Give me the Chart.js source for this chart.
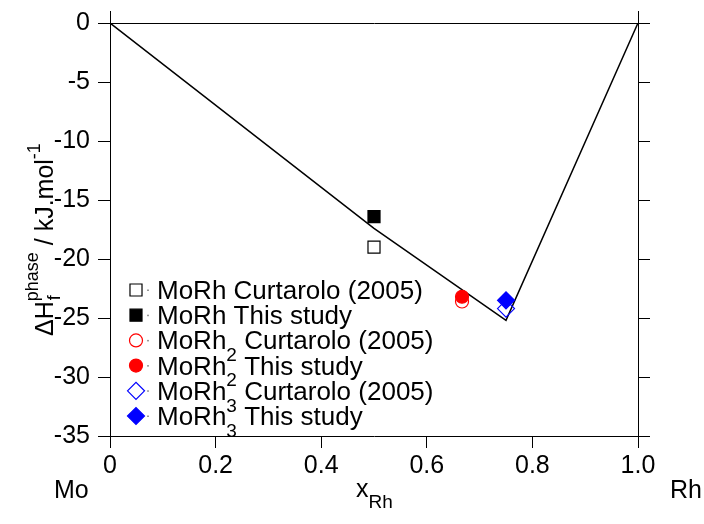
<!DOCTYPE html>
<html>
<head>
<meta charset="utf-8">
<script src="https://cdn.jsdelivr.net/npm/chart.js@4.4.1/dist/chart.umd.min.js"></script>
<style>
body{margin:0;background:#fff}
#grafica{display:block}
</style>
</head>
<body>
<canvas id="grafica" width="704" height="524"></canvas>
<script>
// composicion x(Rh) de cada fase
let fases = ['MoRh', 'MoRh', 'MoRh'];
let subindices = ['', '2', '3'];
let xFases = [0.5, 0.6667, 0.75];
// entalpias de formacion (kJ/mol)
let curtarolo = [-19.0, -23.6, -24.2];
let esteEstudio = [-16.4, -23.2, -23.5];
let fuentes = ['Curtarolo (2005)', 'This study'];
// envolvente convexa
let xEnvolvente = [0, 0.5, 0.75, 1];
let yEnvolvente = [0, -17.4, -25.2, 0];
let etiquetasX = ['0', '0.2', '0.4', '0.6', '0.8', '1.0'];

let colores = ['#000000', '#ff0000', '#0000ff'];
let estilos = ['rect', 'circle', 'rectRot'];
let radios = [8.5, 6.5, 8.5];
const fuente = '"Liberation Sans", Arial, sans-serif';
Chart.defaults.font.family = fuente;

let datasets = [];
for (let i = 0; i < fases.length; i++) {
    [curtarolo, esteEstudio].forEach((serie, j) => {
        datasets.push({
            label: fases[i] + subindices[i] + ' ' + fuentes[j],
            fase: fases[i], sub: subindices[i], texto: ' ' + fuentes[j],
            data: [{x: xFases[i], y: serie[i]}],
            pointStyle: estilos[i],
            pointRadius: radios[i],
            pointBorderWidth: 1.2,
            borderColor: colores[i],
            backgroundColor: j == 0 ? 'rgba(255,255,255,0)' : colores[i],
            order: j == 0 ? 2 : 1
        });
    });
}
datasets.push({
    label: 'hull',
    data: xEnvolvente.map((x, k) => ({x: x, y: yEnvolvente[k]})),
    showLine: true,
    pointRadius: 0,
    borderColor: '#000',
    borderWidth: 1.5,
    order: 3
});

function escribir(ctx, partes, x, y, tam) {
    let px = x;
    partes.forEach(p => {
        let t = p[0], tipo = p[1];
        let f = tipo == 'n' ? tam : Math.round(tam * 0.74);
        let dy = tipo == 'sub' ? tam * 0.45 : (tipo == 'sup' ? -tam * 0.5 : 0);
        ctx.font = f + 'px ' + fuente;
        ctx.fillText(t, px, y + dy);
        px += ctx.measureText(t).width;
    });
    return px;
}

const textos = {
    id: 'textos',
    afterDraw(chart) {
        const ctx = chart.ctx;
        ctx.save();
        ctx.fillStyle = '#000';
        ctx.textBaseline = 'alphabetic';
        ctx.textAlign = 'left';
        // leyenda
        let lx = 136, ly = 290, paso = 25.2;
        chart.data.datasets.forEach((ds, i) => {
            if (!ds.fase) return;
            let y = ly + i * paso;
            ctx.lineWidth = ds.pointBorderWidth;
            ctx.strokeStyle = ds.borderColor;
            ctx.fillStyle = ds.backgroundColor;
            Chart.helpers.drawPoint(ctx, {pointStyle: ds.pointStyle, radius: ds.pointRadius, rotation: 0, borderWidth: ds.pointBorderWidth}, lx, y);
            ctx.fillStyle = '#999';
            ctx.fillRect(147, y - 0.5, 2, 1.5);
            ctx.fillStyle = '#000';
            escribir(ctx, [[ds.fase, 'n'], [ds.sub, 'sub'], [ds.texto, 'n']], 157, y + 9, 26);
        });
        // titulo eje x
        escribir(ctx, [['x', 'n'], ['Rh', 'sub']], 356, 497, 25);
        ctx.font = '25px ' + fuente;
        ctx.fillText('Mo', 54, 498);
        ctx.fillText('Rh', 670, 498);
        // titulo eje y
        ctx.translate(53, 336);
        ctx.rotate(-Math.PI / 2);
        ctx.font = '25px ' + fuente;
        ctx.fillText('\u0394H', 0, 0);
        let w = ctx.measureText('\u0394H').width;
        ctx.font = '18px ' + fuente;
        ctx.fillText('f', w + 1, 7);
        ctx.fillText('phase', w, -15);
        w += ctx.measureText('phase').width;
        ctx.font = '25px ' + fuente;
        ctx.fillText(' / kJ.mol', w, 0);
        w += ctx.measureText(' / kJ.mol').width;
        ctx.font = '18px ' + fuente;
        ctx.fillText('-1', w, -13);
        ctx.restore();
    }
};

const ejeBase = {
    grid: {drawOnChartArea: false, tickLength: 12, color: '#000'},
    border: {color: '#000', width: 1}
};

let grafica = document.getElementById('grafica').getContext('2d');
let chart = new Chart(grafica, {
    type: 'scatter',
    data: {datasets: datasets},
    options: {
        responsive: false,
        animation: false,
        devicePixelRatio: 1,
        layout: {padding: 0},
        plugins: {legend: {display: false}, tooltip: {enabled: false}, title: {display: false}},
        scales: {
            x: {
                type: 'linear', position: 'bottom', min: 0, max: 1,
                ticks: {stepSize: 0.2, color: '#000', font: {size: 25}, padding: 3, maxRotation: 0, autoSkip: false,
                    callback: (v, i) => etiquetasX[i]},
                grid: ejeBase.grid, border: ejeBase.border,
                afterFit: s => { s.height = 88; }
            },
            y: {
                type: 'linear', position: 'left', min: -35, max: 0,
                ticks: {stepSize: 5, color: '#000', font: {size: 25}, padding: 8},
                grid: ejeBase.grid, border: ejeBase.border,
                afterFit: s => { s.width = 110; }
            },
            xArriba: {
                type: 'linear', position: 'top', min: 0, max: 1,
                ticks: {display: false},
                grid: ejeBase.grid, border: ejeBase.border,
                afterBuildTicks: s => { s.ticks = [{value: 0}, {value: 1}]; },
                afterFit: s => { s.height = 18; }
            },
            yDerecha: {
                type: 'linear', position: 'right', min: -35, max: 0,
                ticks: {display: false, stepSize: 5},
                grid: ejeBase.grid, border: ejeBase.border,
                afterFit: s => { s.width = 66; }
            }
        }
    },
    plugins: [textos]
});
</script>
</body>
</html>
